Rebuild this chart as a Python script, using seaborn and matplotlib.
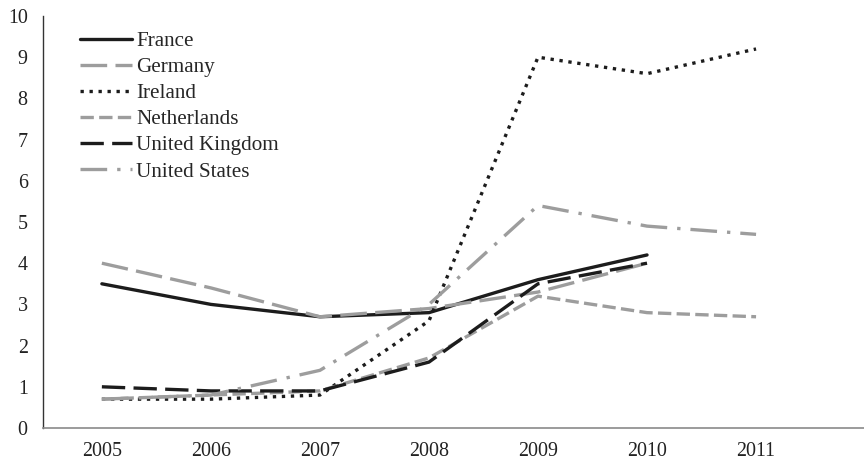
import pandas as pd
import matplotlib
matplotlib.use("Agg")
import matplotlib.pyplot as plt
import seaborn as sns

# values
years = [2005, 2006, 2007, 2008, 2009, 2010, 2011]
france = [3.5, 3.0, 2.7, 2.8, 3.6, 4.2]
germany = [4.0, 3.4, 2.7, 2.9, 3.3, 4.0]
ireland = [0.7, 0.7, 0.8, 2.6, 9.0, 8.6, 9.2]
netherlands = [0.7, 0.8, 0.9, 1.7, 3.2, 2.8, 2.7]
united_kingdom = [1.0, 0.9, 0.9, 1.6, 3.5, 4.0]
united_states = [0.7, 0.8, 1.4, 3.0, 5.4, 4.9, 4.7]

countries = ["France", "Germany", "Ireland", "Netherlands", "United Kingdom", "United States"]
series = [france, germany, ireland, netherlands, united_kingdom, united_states]

# long form table for seaborn
rows = []
for name, vals in zip(countries, series):
    for yr, v in zip(years, vals):
        rows.append({"year": yr, "value": v, "country": name})
data = pd.DataFrame(rows)

dark = "#1c1c1c"
grey = "#9d9d9d"
palette = {"France": dark, "Germany": grey, "Ireland": dark,
           "Netherlands": grey, "United Kingdom": dark, "United States": grey}
dashes = {"France": "", "Germany": (8, 2.5), "Ireland": (1, 1.7),
          "Netherlands": (4, 1.6), "United Kingdom": (7, 2.5),
          "United States": (8, 3, 1, 3)}

sns.set_theme(style="white")
plt.rcParams["font.family"] = ["Liberation Serif", "DejaVu Serif"]

fig = plt.figure(figsize=(8.64, 4.61), dpi=100)
ax = fig.add_axes([43 / 864, 33 / 461, 821 / 864, 412 / 461])

sns.lineplot(data=data, x="year", y="value", hue="country", style="country",
             palette=palette, dashes=dashes, hue_order=countries,
             style_order=countries, linewidth=2.4, ax=ax)

ax.set_xlim(years[0] - 0.54, years[0] + 6.99)
ax.set_ylim(0, 10)
ax.set_xticks(years)
ax.set_xticklabels([str(y) for y in years])
ax.set_yticks(range(0, 11))
ax.set_xlabel("")
ax.set_ylabel("")
ax.tick_params(axis="both", length=0, labelsize=14.4, colors="#222222")
ax.tick_params(axis="y", pad=11)
ax.tick_params(axis="x", pad=10)

for side in ["top", "right"]:
    ax.spines[side].set_visible(False)
ax.spines["left"].set_color("#333333")
ax.spines["left"].set_linewidth(1.0)
ax.spines["bottom"].set_color("#8a8a8a")
ax.spines["bottom"].set_linewidth(1.2)

handles, labels = ax.get_legend_handles_labels()
ax.legend(handles, labels, loc="upper left", bbox_to_anchor=(0.045, 0.963),
          frameon=False, borderpad=0, borderaxespad=0, fontsize=15.2,
          handlelength=2.46, handletextpad=0.2, labelspacing=0.3)

fig.savefig("out.png", dpi=100)
